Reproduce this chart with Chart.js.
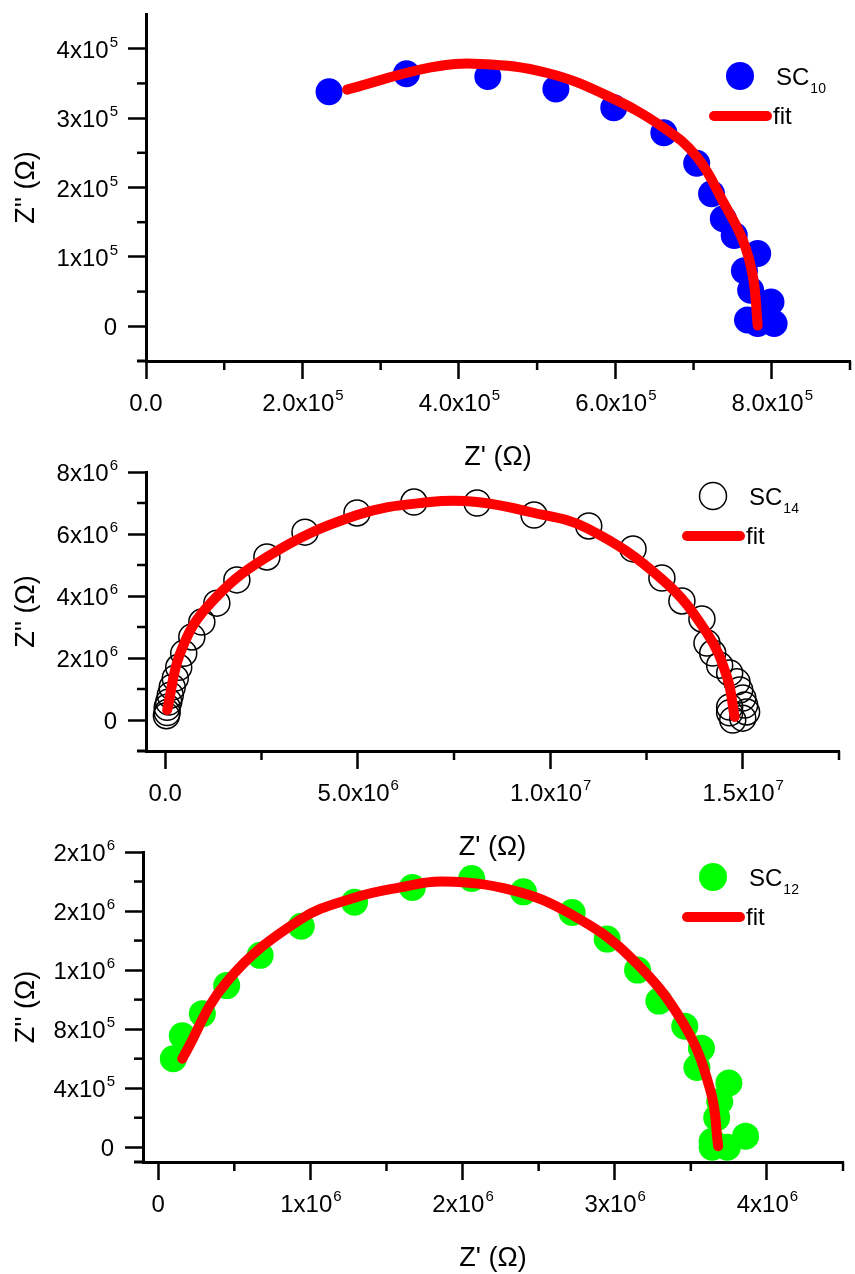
<!DOCTYPE html>
<html>
<head>
<meta charset="utf-8">
<script src="https://cdn.jsdelivr.net/npm/chart.js@4.4.0/dist/chart.umd.min.js"></script>
<style>
  html, body { margin: 0; padding: 0; background: #fff; }
  #wrap { position: relative; width: 855px; height: 1274px; }
  canvas { position: absolute; left: 0; top: 0; }
</style>
</head>
<body>
<div id="wrap">
  <canvas id="c10" width="855" height="1274"></canvas>
  <canvas id="c14" width="855" height="1274"></canvas>
  <canvas id="c12" width="855" height="1274"></canvas>
</div>
<script>
// SC10: measured Z' / Z'' (Ohm) and equivalent-circuit fit
const sc10Re = [2.34e5, 3.33e5, 4.37e5, 5.24e5, 5.98e5, 6.62e5, 7.04e5, 7.23e5, 7.38e5, 7.52e5, 7.82e5, 7.65e5, 7.73e5, 7.99e5, 7.69e5, 7.82e5, 8.03e5];
const sc10Im = [3.38e5, 3.64e5, 3.60e5, 3.42e5, 3.15e5, 2.79e5, 2.35e5, 1.91e5, 1.55e5, 1.31e5, 1.05e5, 0.80e5, 0.52e5, 0.35e5, 0.09e5, 0.04e5, 0.04e5];
const fit10Re = [2.57e5, 3.64e5, 4.28e5, 5.13e5, 5.90e5, 6.62e5, 7.05e5, 7.39e5, 7.63e5, 7.76e5, 7.82e5];
const fit10Im = [3.41e5, 3.73e5, 3.78e5, 3.65e5, 3.32e5, 2.86e5, 2.43e5, 1.77e5, 1.24e5, 0.71e5, 0.01e5];

// SC14
const sc14Re = [0.03e6, 0.05e6, 0.05e6, 0.09e6, 0.13e6, 0.18e6, 0.26e6, 0.35e6, 0.48e6, 0.69e6, 0.95e6, 1.34e6, 1.86e6, 2.64e6, 3.63e6, 4.98e6, 6.46e6, 8.10e6, 9.58e6, 11.0e6, 12.15e6, 12.9e6, 13.42e6, 13.94e6, 14.07e6, 14.22e6, 14.4e6, 14.66e6, 14.85e6, 14.92e6, 15.0e6, 15.05e6, 14.66e6, 15.1e6, 14.66e6, 15.0e6, 14.74e6];
const sc14Im = [0.14e6, 0.24e6, 0.41e6, 0.58e6, 0.80e6, 1.06e6, 1.35e6, 1.70e6, 2.15e6, 2.68e6, 3.16e6, 3.77e6, 4.52e6, 5.26e6, 6.06e6, 6.68e6, 7.03e6, 7.00e6, 6.61e6, 6.26e6, 5.52e6, 4.58e6, 3.84e6, 3.26e6, 2.48e6, 2.16e6, 1.77e6, 1.52e6, 1.23e6, 0.97e6, 0.71e6, 0.48e6, 0.42e6, 0.26e6, 0.23e6, 0.06e6, 0.0];
const fit14Re = [0.05e6, 0.39e6, 1.09e6, 2.64e6, 4.98e6, 6.88e6, 8.10e6, 9.47e6, 10.95e6, 12.92e6, 14.07e6, 14.59e6, 14.79e6];
const fit14Im = [0.32e6, 2.16e6, 3.65e6, 5.26e6, 6.61e6, 7.03e6, 7.03e6, 6.71e6, 6.19e6, 4.52e6, 2.81e6, 1.39e6, 0.10e6];

// SC12
const sc12Re = [0.099e6, 0.158e6, 0.29e6, 0.45e6, 0.67e6, 0.94e6, 1.29e6, 1.67e6, 2.06e6, 2.40e6, 2.72e6, 2.95e6, 3.15e6, 3.29e6, 3.46e6, 3.57e6, 3.54e6, 3.75e6, 3.69e6, 3.67e6, 3.86e6, 3.64e6, 3.74e6, 3.64e6];
const sc12Im = [5.99e5, 7.55e5, 9.05e5, 10.95e5, 13.0e5, 14.97e5, 16.6e5, 17.6e5, 18.2e5, 17.3e5, 15.9e5, 14.1e5, 12.0e5, 9.9e5, 8.2e5, 6.7e5, 5.4e5, 4.35e5, 3.1e5, 2.0e5, 0.75e5, 0.4e5, 0.0, 0.0];
const fit12Re = [0.158e6, 0.45e6, 0.93e6, 1.29e6, 1.59e6, 1.87e6, 2.33e6, 2.71e6, 3.10e6, 3.45e6, 3.63e6, 3.68e6];
const fit12Im = [6.0e5, 11.2e5, 15.4e5, 16.9e5, 17.6e5, 18.0e5, 17.4e5, 15.8e5, 12.9e5, 8.4e5, 3.8e5, 0.07e5];

// axis ticks (labels use "^" for the exponent)
const x10Major = [0, 2e5, 4e5, 6e5, 8e5];
const x10Labels = ['0.0', '2.0x10^5', '4.0x10^5', '6.0x10^5', '8.0x10^5'];
const x10Minor = [1e5, 3e5, 5e5, 7e5, 9e5];
const y10Major = [0, 1e5, 2e5, 3e5, 4e5];
const y10Labels = ['0', '1x10^5', '2x10^5', '3x10^5', '4x10^5'];
const y10Minor = [0.5e5, 1.5e5, 2.5e5, 3.5e5];

const x14Major = [0, 5e6, 1e7, 1.5e7];
const x14Labels = ['0.0', '5.0x10^6', '1.0x10^7', '1.5x10^7'];
const x14Minor = [2.5e6, 7.5e6, 1.25e7, 1.75e7];
const y14Major = [0, 2e6, 4e6, 6e6, 8e6];
const y14Labels = ['0', '2x10^6', '4x10^6', '6x10^6', '8x10^6'];
const y14Minor = [1e6, 3e6, 5e6, 7e6];

const x12Major = [0, 1e6, 2e6, 3e6, 4e6];
const x12Labels = ['0', '1x10^6', '2x10^6', '3x10^6', '4x10^6'];
const x12Minor = [0.5e6, 1.5e6, 2.5e6, 3.5e6, 4.5e6];
const y12Major = [0, 4e5, 8e5, 1.2e6, 1.6e6, 2e6];
const y12Labels = ['0', '4x10^5', '8x10^5', '1x10^6', '2x10^6', '2x10^6'];
const y12Minor = [2e5, 6e5, 1e6, 1.4e6, 1.8e6];

const FONT = '"Liberation Sans", Arial, sans-serif';
const RED = '#ff0000';

function zip(xs, ys) {
  return xs.map((x, i) => ({ x: x, y: ys[i] }));
}

// text with a raised (rise < 0) or lowered (rise > 0) small part after it
function smallPartText(ctx, base, extra, x, y, align, big, small, rise) {
  ctx.font = big + 'px ' + FONT;
  const wb = ctx.measureText(base).width;
  let we = 0;
  if (extra) {
    ctx.font = small + 'px ' + FONT;
    we = ctx.measureText(extra).width;
  }
  const w = wb + we;
  const x0 = align === 'center' ? x - w / 2 : align === 'right' ? x - w : x;
  ctx.textAlign = 'left';
  ctx.textBaseline = 'alphabetic';
  ctx.font = big + 'px ' + FONT;
  ctx.fillText(base, x0, y);
  if (extra) {
    ctx.font = small + 'px ' + FONT;
    ctx.fillText(extra, x0 + wb + 1, y + rise);
  }
}

function powLabel(ctx, text, x, y, align) {
  const parts = text.split('^');
  smallPartText(ctx, parts[0], parts[1], x, y, align, 24, 15, -11);
}

// minor ticks, tick labels, titles and legend box drawn over the chart
function decor(p) {
  return {
    id: 'decor',
    afterDraw(chart) {
      const ctx = chart.ctx;
      const xs = chart.scales.x, ys = chart.scales.y;
      const a = chart.chartArea;
      ctx.save();
      ctx.strokeStyle = '#000';
      ctx.fillStyle = '#000';

      ctx.lineWidth = 3;
      ctx.beginPath();
      ctx.moveTo(a.left - 9, a.bottom);
      ctx.lineTo(a.left, a.bottom);
      ctx.stroke();

      ctx.lineWidth = 2.5;
      p.xMinor.forEach(v => {
        const px = xs.getPixelForValue(v);
        ctx.beginPath(); ctx.moveTo(px, a.bottom); ctx.lineTo(px, a.bottom + 9); ctx.stroke();
      });
      p.yMinor.forEach(v => {
        const py = ys.getPixelForValue(v);
        ctx.beginPath(); ctx.moveTo(a.left, py); ctx.lineTo(a.left - 9, py); ctx.stroke();
      });

      p.xMajor.forEach((v, i) => powLabel(ctx, p.xLabels[i], xs.getPixelForValue(v), a.bottom + 50, 'center'));
      p.yMajor.forEach((v, i) => powLabel(ctx, p.yLabels[i], a.left - 29, ys.getPixelForValue(v) + 9, 'right'));

      ctx.font = '27px ' + FONT;
      ctx.textAlign = 'center';
      ctx.textBaseline = 'middle';
      ctx.fillText("Z' (\u03A9)", (a.left + a.right) / 2, a.bottom + 97);
      ctx.save();
      ctx.translate(27, (a.top + a.bottom) / 2);
      ctx.rotate(-Math.PI / 2);
      ctx.fillText("Z'' (\u03A9)", 0, 0);
      ctx.restore();

      // legend
      const lg = p.legend;
      const pts = chart.data.datasets[1];
      ctx.beginPath();
      ctx.arc(lg.x, lg.y, pts.pointRadius + 0.5, 0, Math.PI * 2);
      if (pts.pointBackgroundColor !== 'transparent') {
        ctx.fillStyle = pts.pointBackgroundColor;
        ctx.fill();
      }
      if (pts.pointBorderWidth > 0) {
        ctx.lineWidth = pts.pointBorderWidth;
        ctx.strokeStyle = pts.pointBorderColor;
        ctx.stroke();
      }
      ctx.fillStyle = '#000';
      smallPartText(ctx, 'SC', p.sub, lg.x + 36, lg.y + 9, 'left', 24, 14, 8);

      ctx.strokeStyle = RED;
      ctx.lineWidth = 10;
      ctx.lineCap = 'round';
      ctx.beginPath();
      ctx.moveTo(lg.x - 26, lg.y + 40);
      ctx.lineTo(lg.x + 27, lg.y + 40);
      ctx.stroke();
      ctx.fillStyle = '#000';
      ctx.font = '24px ' + FONT;
      ctx.textAlign = 'left';
      ctx.textBaseline = 'alphabetic';
      ctx.fillText('fit', lg.x + 33, lg.y + 48);
      ctx.restore();
    }
  };
}

function axis(min, max, major) {
  return {
    type: 'linear',
    min: min,
    max: max,
    afterBuildTicks: s => { s.ticks = major.map(v => ({ value: v })); },
    ticks: { display: false },
    grid: { display: true, drawOnChartArea: false, drawTicks: true, tickLength: 18, tickWidth: 2.5, tickColor: '#000' },
    border: { display: true, color: '#000', width: 3 }
  };
}

function panel(id, p) {
  new Chart(document.getElementById(id), {
    type: 'scatter',
    data: {
      datasets: [
        {
          label: 'fit',
          data: zip(p.fitRe, p.fitIm),
          showLine: true,
          borderColor: RED,
          borderWidth: 10,
          borderCapStyle: 'round',
          borderJoinStyle: 'round',
          tension: 0.4,
          pointRadius: 0,
          order: 0
        },
        {
          label: 'SC' + p.sub,
          data: zip(p.re, p.im),
          pointRadius: p.radius,
          pointBackgroundColor: p.fill,
          pointBorderColor: p.stroke,
          pointBorderWidth: p.strokeWidth,
          order: 1
        }
      ]
    },
    options: {
      responsive: false,
      animation: false,
      devicePixelRatio: 1,
      events: [],
      layout: { padding: p.padding, autoPadding: false },
      plugins: { legend: { display: false }, tooltip: { enabled: false } },
      scales: {
        x: axis(p.xMin, p.xMax, p.xMajor),
        y: axis(p.yMin, p.yMax, p.yMajor)
      }
    },
    plugins: [decor(p)]
  });
}

panel('c10', {
  sub: '10', re: sc10Re, im: sc10Im, fitRe: fit10Re, fitIm: fit10Im,
  radius: 13.5, fill: '#0000ff', stroke: '#0000ff', strokeWidth: 0,
  xMin: 0, xMax: 9e5, yMin: -0.5e5, yMax: 4.5e5,
  xMajor: x10Major, xLabels: x10Labels, xMinor: x10Minor,
  yMajor: y10Major, yLabels: y10Labels, yMinor: y10Minor,
  padding: { left: 128, right: 5, top: 14, bottom: 895 },
  legend: { x: 740, y: 76 }
});

panel('c14', {
  sub: '14', re: sc14Re, im: sc14Im, fitRe: fit14Re, fitIm: fit14Im,
  radius: 13, fill: 'transparent', stroke: '#000', strokeWidth: 1.5,
  xMin: -0.5e6, xMax: 1.75e7, yMin: -1e6, yMax: 8e6,
  xMajor: x14Major, xLabels: x14Labels, xMinor: x14Minor,
  yMajor: y14Major, yLabels: y14Labels, yMinor: y14Minor,
  padding: { left: 128, right: 16, top: 472, bottom: 505 },
  legend: { x: 713, y: 496 }
});

panel('c12', {
  sub: '12', re: sc12Re, im: sc12Im, fitRe: fit12Re, fitIm: fit12Im,
  radius: 13.5, fill: '#00ff00', stroke: '#00ff00', strokeWidth: 0,
  xMin: -1e5, xMax: 4.5e6, yMin: -1e5, yMax: 2e6,
  xMajor: x12Major, xLabels: x12Labels, xMinor: x12Minor,
  yMajor: y12Major, yLabels: y12Labels, yMinor: y12Minor,
  padding: { left: 125, right: 12, top: 852, bottom: 94 },
  legend: { x: 713, y: 877 }
});
</script>
</body>
</html>
